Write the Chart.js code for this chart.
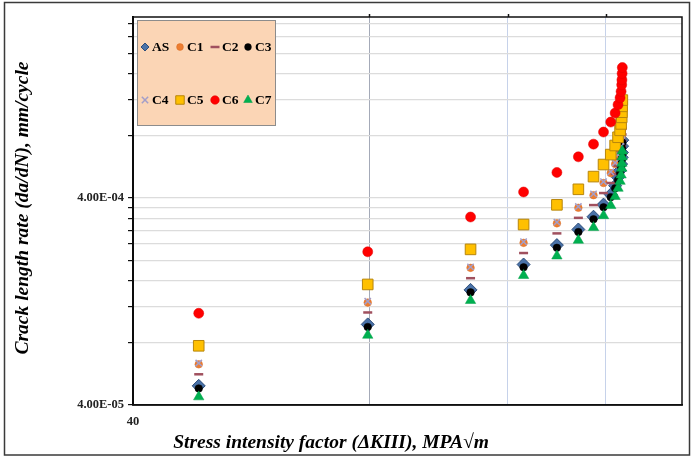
<!DOCTYPE html>
<html>
<head>
<meta charset="utf-8">
<script src="https://cdn.jsdelivr.net/npm/chart.js@4.4.1/dist/chart.umd.min.js"></script>
<style>
  html, body { margin: 0; padding: 0; background: #fff; }
  #wrap { width: 694px; height: 457px; position: relative; }
</style>
</head>
<body>
<div id="wrap"><canvas id="fcgChart"></canvas></div>
<script>
// Stress intensity factor (x), shared by every series
const deltaK = [48.5, 79.6, 107.6, 125.7, 138.6, 147.6, 154.3, 158.9, 162.3, 164.4, 165.8, 166.8, 167.3, 167.6, 167.7, 167.8, 167.9];

// Crack growth rate per series (mm/cycle)
const rateAS = [4.95e-5, 9.81e-5, 1.44e-4, 1.91e-4, 2.37e-4, 2.82e-4, 3.25e-4, 3.72e-4, 4.16e-4, 4.59e-4, 5.04e-4, 5.44e-4, 5.84e-4, 6.29e-4, 6.64e-4, 7.13e-4, 7.62e-4];
const rateC1 = [6.29e-5, 1.25e-4, 1.84e-4, 2.43e-4, 3.02e-4, 3.59e-4, 4.13e-4, 4.73e-4, 5.28e-4, 5.84e-4, 6.41e-4, 6.92e-4, 7.43e-4, 7.99e-4, 8.45e-4, 9.07e-4, 9.70e-4];
const rateC2 = [5.63e-5, 1.12e-4, 1.64e-4, 2.17e-4, 2.70e-4, 3.21e-4, 3.70e-4, 4.23e-4, 4.73e-4, 5.23e-4, 5.73e-4, 6.19e-4, 6.65e-4, 7.15e-4, 7.56e-4, 8.12e-4, 8.67e-4];
const rateC3 = [4.81e-5, 9.53e-5, 1.40e-4, 1.85e-4, 2.30e-4, 2.74e-4, 3.16e-4, 3.61e-4, 4.04e-4, 4.46e-4, 4.89e-4, 5.28e-4, 5.67e-4, 6.11e-4, 6.45e-4, 6.93e-4, 7.41e-4];
const rateC4 = [6.38e-5, 1.27e-4, 1.86e-4, 2.46e-4, 3.06e-4, 3.64e-4, 4.19e-4, 4.80e-4, 5.36e-4, 5.92e-4, 6.50e-4, 7.02e-4, 7.53e-4, 8.11e-4, 8.57e-4, 9.20e-4, 9.83e-4];
const rateC5 = [7.73e-5, 1.53e-4, 2.26e-4, 2.98e-4, 3.71e-4, 4.41e-4, 5.08e-4, 5.81e-4, 6.49e-4, 7.18e-4, 7.87e-4, 8.50e-4, 9.13e-4, 9.82e-4, 1.04e-3, 1.11e-3, 1.19e-3];
const rateC6 = [1.11e-4, 2.20e-4, 3.24e-4, 4.28e-4, 5.32e-4, 6.33e-4, 7.29e-4, 8.34e-4, 9.32e-4, 1.03e-3, 1.13e-3, 1.22e-3, 1.31e-3, 1.41e-3, 1.49e-3, 1.60e-3, 1.71e-3];
const rateC7 = [4.38e-5, 8.69e-5, 1.28e-4, 1.69e-4, 2.10e-4, 2.50e-4, 2.88e-4, 3.29e-4, 3.68e-4, 4.07e-4, 4.46e-4, 4.82e-4, 5.17e-4, 5.57e-4, 5.89e-4, 6.32e-4, 6.75e-4];

const seriesNames = ['AS', 'C1', 'C2', 'C3', 'C4', 'C5', 'C6', 'C7'];
const seriesRates = [rateAS, rateC1, rateC2, rateC3, rateC4, rateC5, rateC6, rateC7];

// Axis ticks
const xTicks = [40, 80, 120, 160, 200];
const xTickLabels = { 40: '40' };
const yTicks = [4e-5, 8e-5, 1.2e-4, 1.6e-4, 2e-4, 2.4e-4, 2.8e-4, 3.2e-4, 3.6e-4, 4e-4, 8e-4, 1.2e-3, 1.6e-3, 2e-3, 2.4e-3, 2.8e-3];
const yTickLabels = { '0.00004': '4.00E-05', '0.0004': '4.00E-04' };

const xTitle = 'Stress intensity factor (\u0394KIII), MPA\u221Am';
const yTitle = 'Crack length rate (da/dN), mm/cycle';

// marker look per series (Excel style)
const markers = [
    { pointStyle: 'rectRot', r: 6.5, lr: 4, bg: '#4a72a8', bd: '#2c4d7a', bw: 1 },
    { pointStyle: 'circle', r: 3.8, lr: 3.4, bg: '#ED7D31', bd: '#d96a20', bw: 0.5 },
    { pointStyle: 'line', r: 4.5, lr: 4.5, bg: '#a0505e', bd: '#a0505e', bw: 2.5 },
    { pointStyle: 'circle', r: 3.8, lr: 3.4, bg: '#000000', bd: '#000000', bw: 0.5 },
    { pointStyle: 'crossRot', r: 4.5, lr: 4.5, bg: '#a39ec9', bd: '#a39ec9', bw: 1.5 },
    { pointStyle: 'rect', r: 7.5, lr: 6, bg: '#FFC000', bd: '#b8860b', bw: 1 },
    { pointStyle: 'circle', r: 5, lr: 4.3, bg: '#FF0000', bd: '#e00000', bw: 0.5 },
    { pointStyle: 'triangle', r: 6, lr: 5, bg: '#00B050', bd: '#00a048', bw: 0.5 }
];

const datasets = seriesNames.map((name, i) => ({
    label: name,
    data: deltaK.map((k, j) => ({ x: k, y: seriesRates[i][j] })),
    showLine: false,
    pointStyle: markers[i].pointStyle,
    pointRadius: markers[i].r,
    pointHoverRadius: markers[i].r,
    backgroundColor: markers[i].bg,
    borderColor: markers[i].bd,
    borderWidth: markers[i].bw,
    order: 7 - i // later series on top, like Excel
}));

// legend box, plot frame, axis titles, outer border
const chartDecor = {
    id: 'chartDecor',
    afterDraw(chart) {
        const { ctx, chartArea: a } = chart;
        const xs = chart.scales.x;
        ctx.save();

        ctx.strokeStyle = '#111';
        ctx.lineWidth = 1.5;
        ctx.strokeRect(a.left, a.top, a.right - a.left, a.bottom - a.top);
        [80, 120, 160].forEach(v => {
            const px = Math.round(xs.getPixelForValue(v)) + 0.5;
            ctx.beginPath();
            ctx.moveTo(px, a.top);
            ctx.lineTo(px, a.top - 3);
            ctx.stroke();
        });

        ctx.strokeStyle = '#3a3a3a';
        ctx.lineWidth = 1.5;
        ctx.strokeRect(4.5, 2.5, 685, 452.5);

        ctx.fillStyle = '#000';
        ctx.font = 'italic bold 19.5px "Liberation Serif", "Times New Roman", serif';
        ctx.textAlign = 'center';
        ctx.textBaseline = 'middle';
        ctx.fillText(xTitle, 331, 443);
        ctx.save();
        ctx.translate(23, 208);
        ctx.rotate(-Math.PI / 2);
        ctx.fillText(yTitle, 0, 0);
        ctx.restore();

        // legend
        ctx.fillStyle = '#FBD5B5';
        ctx.fillRect(137.5, 20.5, 138, 105);
        ctx.strokeStyle = '#8c8c8c';
        ctx.lineWidth = 1;
        ctx.strokeRect(137.5, 20.5, 138, 105);

        const colX = [145, 180, 215, 248];
        const rowY = [47, 100];
        ctx.font = 'bold 13.5px "Liberation Serif", "Times New Roman", serif';
        ctx.textAlign = 'left';
        seriesNames.forEach((name, i) => {
            const mx = colX[i % 4];
            const my = rowY[Math.floor(i / 4)];
            const m = markers[i];
            ctx.fillStyle = m.bg;
            ctx.strokeStyle = m.bd;
            ctx.lineWidth = m.bw;
            Chart.helpers.drawPoint(ctx, { pointStyle: m.pointStyle, radius: m.lr, rotation: 0, borderWidth: m.bw }, mx, my);
            ctx.fillStyle = '#000';
            ctx.fillText(name, mx + 7, my + 1);
        });

        ctx.restore();
    }
};

new Chart(document.getElementById('fcgChart'), {
    type: 'scatter',
    data: { datasets: datasets },
    options: {
        responsive: true,
        maintainAspectRatio: false,
        animation: false,
        devicePixelRatio: 1,
        layout: { padding: { left: 0, top: 17, right: 12, bottom: 0 } },
        plugins: {
            legend: { display: false },
            tooltip: { enabled: false }
        },
        scales: {
            x: {
                type: 'logarithmic',
                min: 40,
                max: 200,
                afterBuildTicks: scale => { scale.ticks = xTicks.map(v => ({ value: v })); },
                afterFit: scale => { scale.height = 52; },
                border: { display: true, color: '#111', width: 1.5 },
                grid: {
                    drawTicks: false,
                    lineWidth: 1,
                    color: c => {
                        const v = c.tick ? c.tick.value : 0;
                        if (v === 80) return '#a4aab8';
                        if (v === 120 || v === 160) return '#c6d2ea';
                        return 'rgba(0,0,0,0)';
                    }
                },
                ticks: {
                    autoSkip: false,
                    maxRotation: 0,
                    padding: 9,
                    color: '#222',
                    font: { family: '"Liberation Serif", "Times New Roman", serif', size: 12.5, weight: 'bold' },
                    callback: v => xTickLabels[v] || ''
                }
            },
            y: {
                type: 'logarithmic',
                min: 4e-5,
                max: 3e-3,
                afterBuildTicks: scale => { scale.ticks = yTicks.map(v => ({ value: v })); },
                afterFit: scale => { scale.width = 133; },
                border: { display: true, color: '#000', width: 2 },
                grid: {
                    color: '#dcdcdc',
                    lineWidth: 1.2,
                    tickColor: '#111',
                    tickLength: 5
                },
                ticks: {
                    autoSkip: false,
                    padding: 4,
                    color: '#222',
                    font: { family: '"Liberation Serif", "Times New Roman", serif', size: 12.5, weight: 'bold' },
                    callback: v => yTickLabels[String(v)] || ''
                }
            }
        }
    },
    plugins: [chartDecor]
});
</script>
</body>
</html>
